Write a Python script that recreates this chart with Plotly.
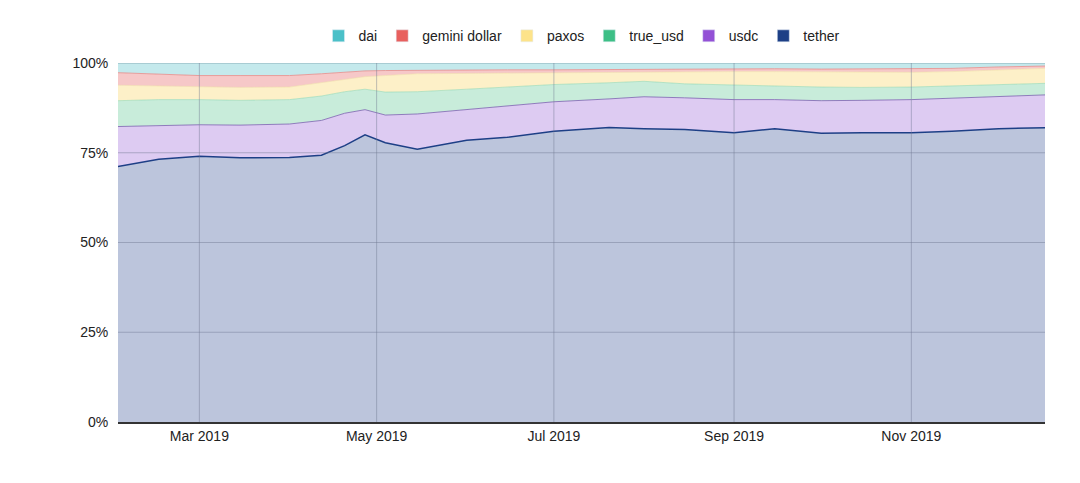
import plotly.graph_objects as go

dates = ["2019-02-01","2019-02-15","2019-03-01","2019-03-15","2019-04-01","2019-04-12","2019-04-20","2019-04-27",
         "2019-05-04","2019-05-15","2019-06-01","2019-06-15","2019-07-01","2019-07-20","2019-08-01","2019-08-15",
         "2019-09-01","2019-09-15","2019-10-01","2019-10-15","2019-11-01","2019-11-15","2019-12-01","2019-12-20"]
# cumulative tops (percent)
tether   = [71.2,73.2,74.0,73.6,73.7,74.3,77.0,80.0,77.8,76.0,78.5,79.3,81.0,82.0,81.7,81.5,80.6,81.7,80.4,80.6,80.6,81.0,81.7,82.0]
usdc     = [82.3,82.6,82.8,82.7,83.0,84.0,86.0,87.0,85.5,85.8,87.0,88.0,89.2,90.0,90.6,90.3,89.8,89.8,89.5,89.6,89.8,90.2,90.6,91.2]
true_usd = [89.5,89.8,89.8,89.6,89.8,90.8,92.0,92.7,91.9,92.0,92.7,93.3,94.0,94.5,94.9,94.2,93.8,93.6,93.3,93.2,93.3,93.6,94.0,94.4]
paxos    = [93.8,93.6,93.3,93.2,93.3,94.5,95.5,96.2,96.5,97.0,97.1,97.2,97.3,97.4,97.5,97.6,97.6,97.6,97.5,97.5,97.4,97.6,98.0,98.6]
gemini   = [97.3,96.9,96.5,96.5,96.5,97.0,97.4,97.8,97.9,98.0,98.0,98.1,98.1,98.2,98.3,98.4,98.4,98.4,98.3,98.3,98.3,98.5,98.9,99.2]
dai      = [100]*len(dates)

x_ticks = ["2019-03-01","2019-05-01","2019-07-01","2019-09-01","2019-11-01"]
y_ticks = [0, 25, 50, 75, 100]
y_labels = ["0%", "25%", "50%", "75%", "100%"]

series = [
    ("tether", tether, "#1d3f86", "rgba(188,197,220,1)", "#1d3f86", 1.5),
    ("usdc", usdc, "#9351d6", "rgba(221,203,242,1)", "#7b5fb0", 0.8),
    ("true_usd", true_usd, "#3dbf86", "rgba(200,236,218,1)", "#8fd6b4", 0.6),
    ("paxos", paxos, "#fde38a", "rgba(253,240,200,1)", "#f0dfa8", 0.6),
    ("gemini dollar", gemini, "#e8605e", "rgba(246,200,200,1)", "#e88a88", 0.8),
    ("dai", dai, "#4bc0c8", "rgba(196,233,236,1)", "#9fd8dc", 0.6),
]

fig = go.Figure()
for i, (name, ys, lc, fc, linec, w) in enumerate(series):
    fig.add_trace(go.Scatter(x=dates, y=ys, mode="lines", line=dict(color=linec, width=w),
                             fill="tozeroy" if i == 0 else "tonexty", fillcolor=fc,
                             showlegend=False, hoverinfo="skip"))
for name, ys, lc, fc, linec, w in reversed(series):
    fig.add_trace(go.Bar(x=[None], y=[None], name=name, marker=dict(color=lc)))

grid = "rgba(110,120,145,0.45)"
for xv in x_ticks:
    fig.add_shape(type="line", xref="x", yref="paper", x0=xv, x1=xv, y0=0, y1=1,
                  line=dict(color=grid, width=1), layer="above")
for yv in y_ticks[1:]:
    fig.add_shape(type="line", xref="paper", yref="y", x0=0, x1=1, y0=yv, y1=yv,
                  line=dict(color=grid, width=1), layer="above")

fig.update_layout(
    width=1080, height=483, plot_bgcolor="white", paper_bgcolor="white",
    margin=dict(l=110, r=43, t=42, b=69),
    font=dict(family="Arial, Liberation Sans", size=14, color="#222"),
    legend=dict(orientation="h", x=0.5, xanchor="center", y=1.03, yanchor="bottom",
                traceorder="normal", font=dict(size=14)),
    showlegend=True,
)
fig.update_xaxes(range=["2019-02-01", "2019-12-17"], tickvals=x_ticks,
                 tickformat="%b %Y", showgrid=False,
                 showline=True, linecolor="#333", linewidth=1.5, ticks="", layer="above traces")
fig.update_yaxes(range=[0, 100], tickvals=y_ticks, ticktext=y_labels, showgrid=False,
                 zeroline=False, ticks="outside", ticklen=6, tickcolor="white", layer="above traces")
fig.write_html("out.html")
